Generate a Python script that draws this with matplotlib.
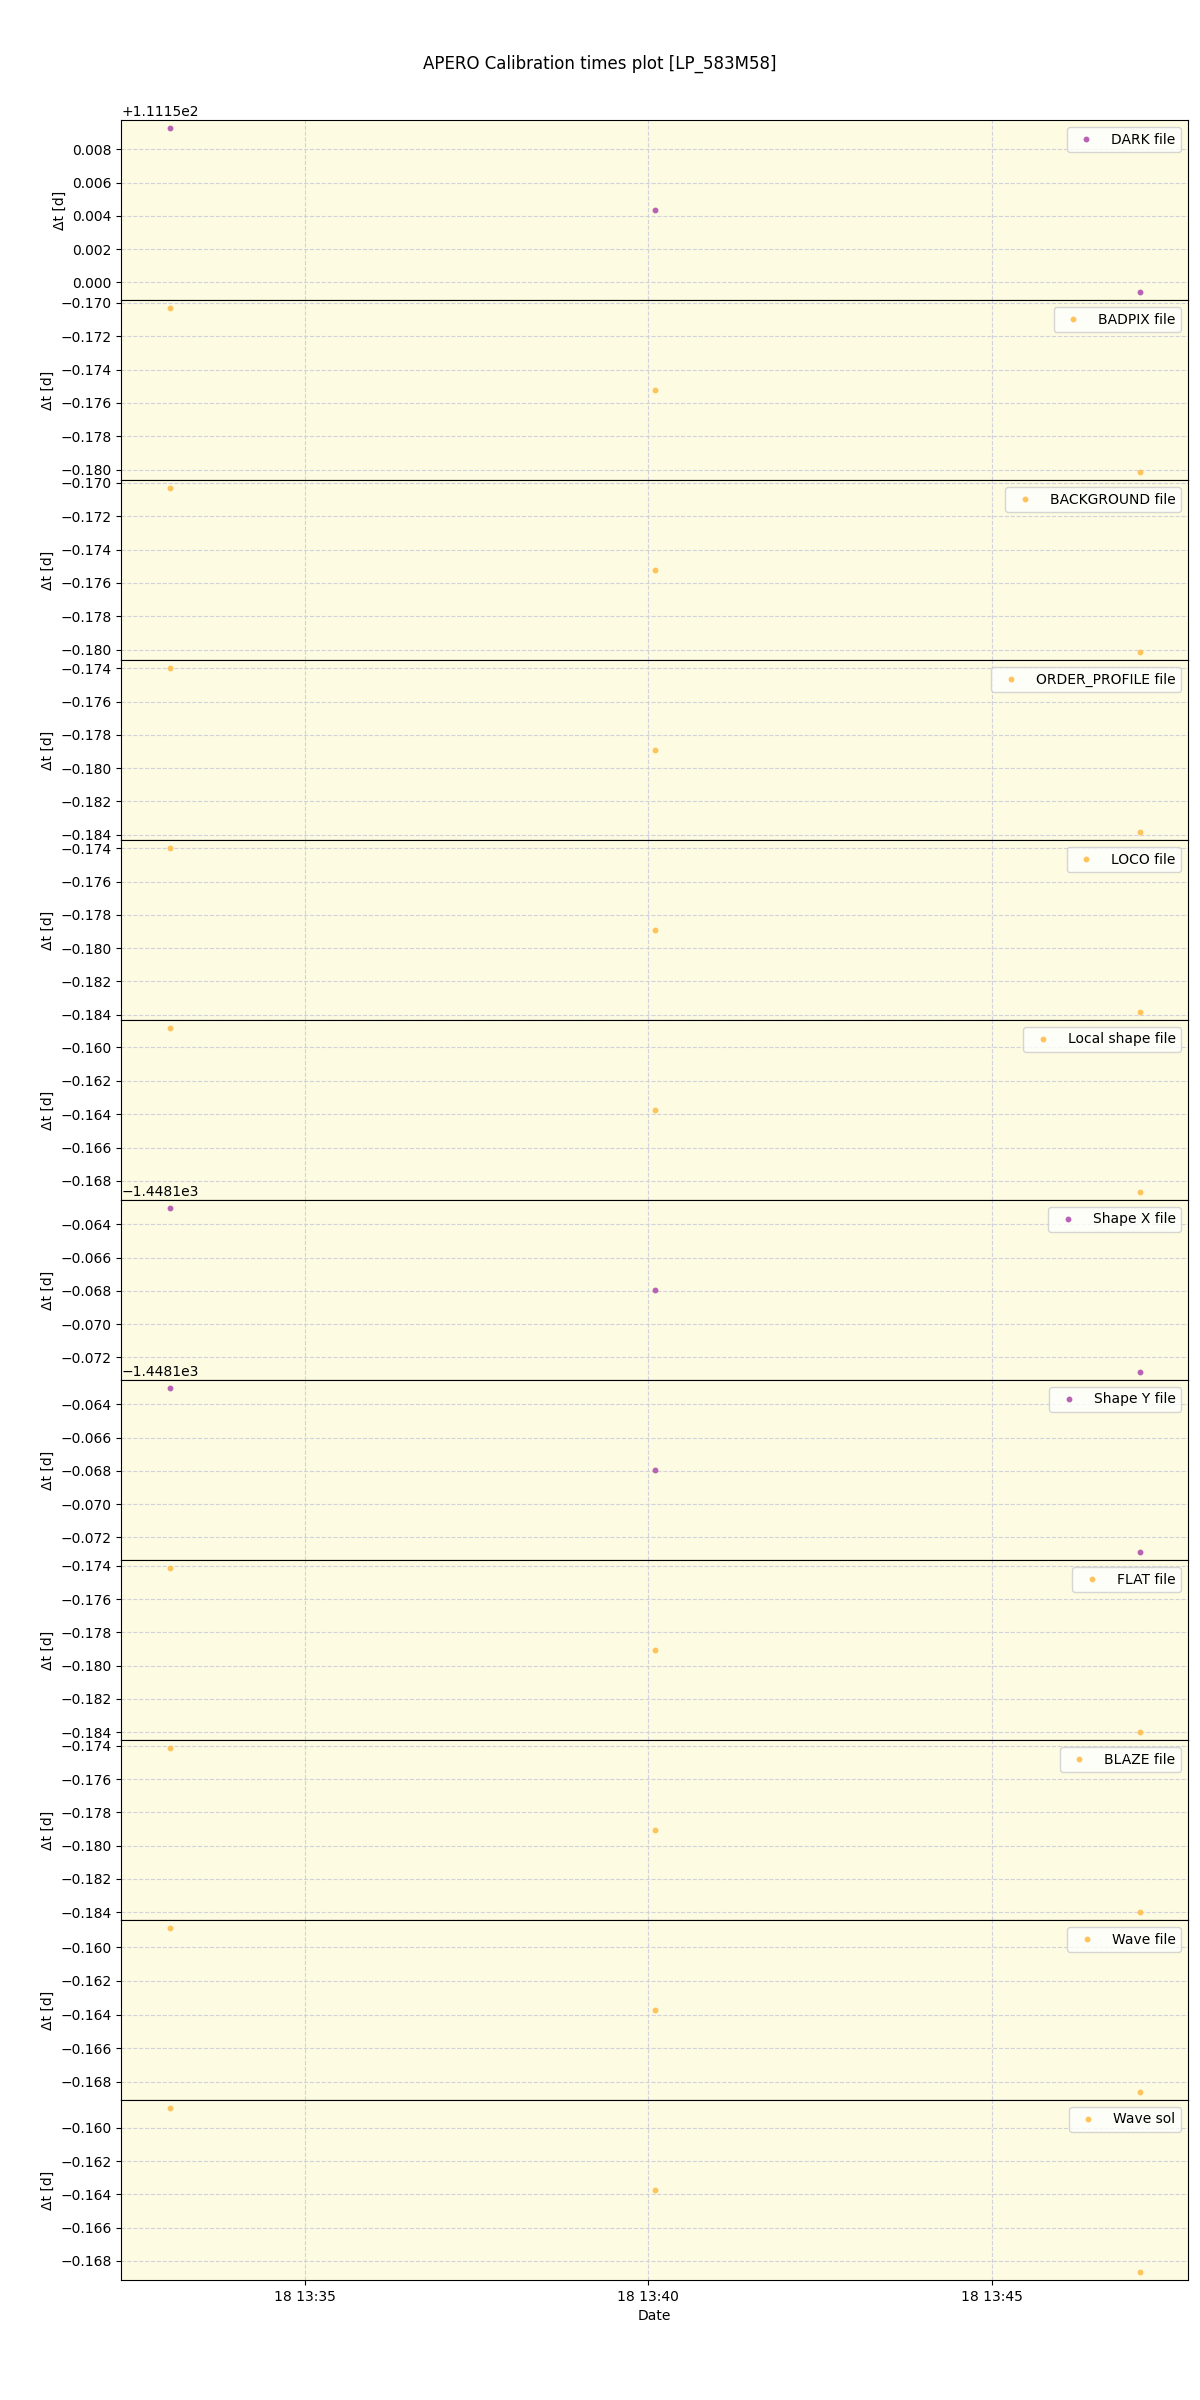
import matplotlib
matplotlib.use("Agg")
import matplotlib.pyplot as plt
import matplotlib.dates as mdates
from datetime import datetime

title = "APERO Calibration times plot [LP_583M58]"

obs_times = ["2022-08-18 13:33:02", "2022-08-18 13:40:06", "2022-08-18 13:47:09"]

labels = ["DARK file", "BADPIX file", "BACKGROUND file", "ORDER_PROFILE file",
          "LOCO file", "Local shape file", "Shape X file", "Shape Y file",
          "FLAT file", "BLAZE file", "Wave file", "Wave sol"]

kinds = ["purple", "orange", "orange", "orange", "orange", "orange",
         "purple", "purple", "orange", "orange", "orange", "orange"]

dark_dt = [111.15927, 111.15436, 111.14943]
badpix_dt = [-0.17033, -0.17524, -0.18012]
background_dt = [-0.17033, -0.17524, -0.18012]
order_profile_dt = [-0.17399, -0.17890, -0.18383]
loco_dt = [-0.17399, -0.17890, -0.18383]
local_shape_dt = [-0.15886, -0.16376, -0.16865]
shape_x_dt = [-1448.16303, -1448.16794, -1448.17287]
shape_y_dt = [-1448.16303, -1448.16794, -1448.17287]
flat_dt = [-0.17415, -0.17906, -0.18397]
blaze_dt = [-0.17415, -0.17906, -0.18397]
wave_file_dt = [-0.15886, -0.16373, -0.16860]
wave_sol_dt = [-0.15883, -0.16374, -0.16865]

series = [dark_dt, badpix_dt, background_dt, order_profile_dt, loco_dt,
          local_shape_dt, shape_x_dt, shape_y_dt, flat_dt, blaze_dt,
          wave_file_dt, wave_sol_dt]

colors = {"purple": "#b862b3", "orange": "#fec35a"}

x = [datetime.strptime(t, "%Y-%m-%d %H:%M:%S") for t in obs_times]

fig, axes = plt.subplots(len(series), 1, figsize=(12, 24), dpi=100, sharex=True)
fig.subplots_adjust(left=0.101, right=0.990, top=0.95, bottom=0.05, hspace=0)

for ax, lab, kind, vals in zip(axes, labels, kinds, series):
    ax.set_facecolor("#fdfbe2")
    ax.plot(x, vals, linestyle="none", marker="o", ms=3.2,
            color=colors[kind], label=lab)
    ax.grid(True, color="#d2d2dc", linestyle="--", linewidth=0.8)
    ax.set_axisbelow(True)
    ax.set_ylabel("Δt [d]")
    ax.legend(loc="upper right")

axes[-1].xaxis.set_major_formatter(mdates.DateFormatter("%d %H:%M"))
axes[-1].set_xlabel("Date")

fig.suptitle(title, y=0.977, fontsize=12)

fig.savefig("out.png", dpi=100)
